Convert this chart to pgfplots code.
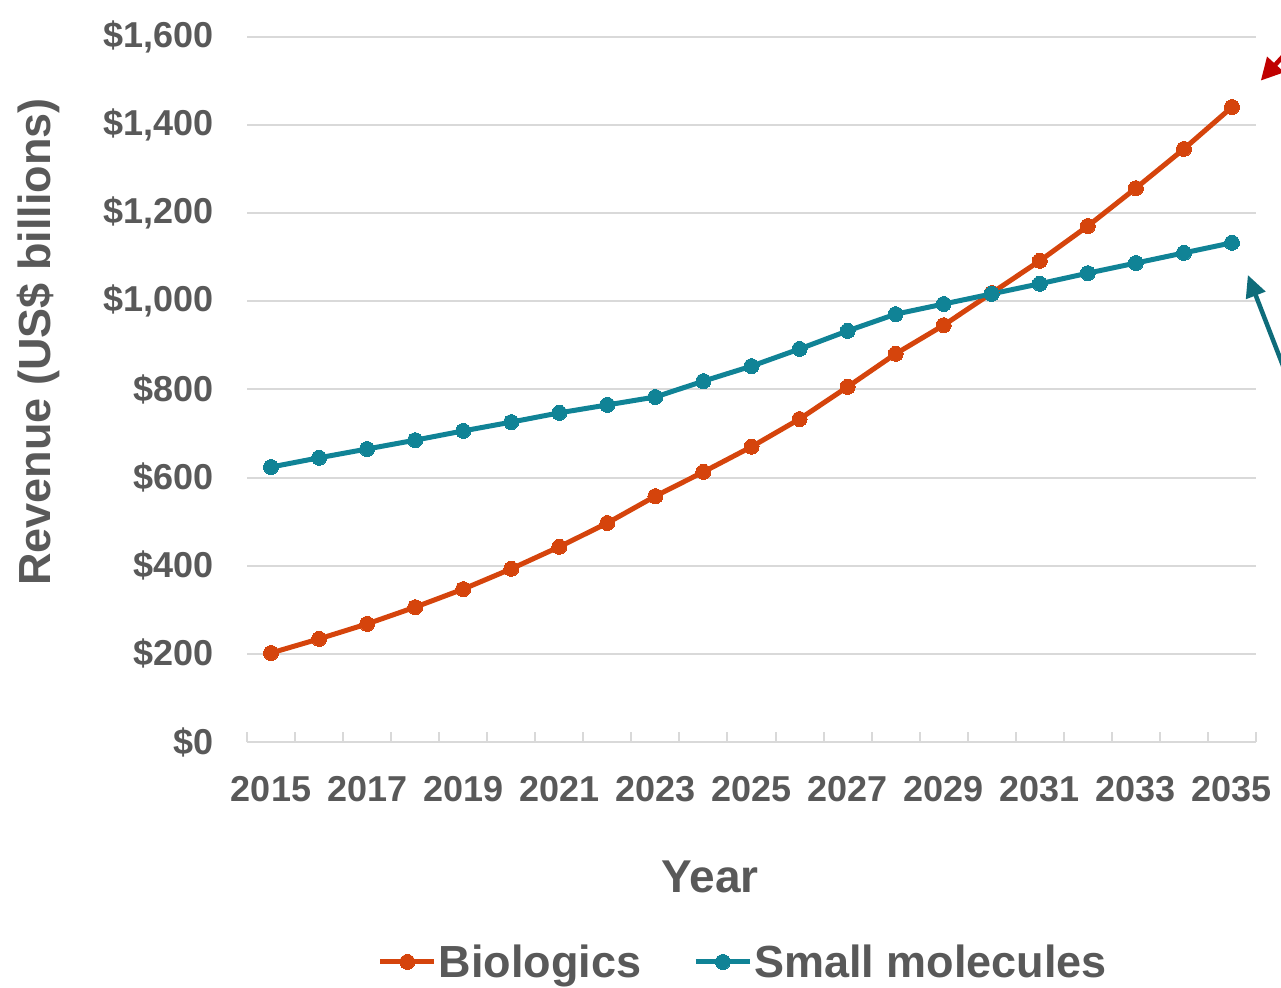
\documentclass[border=0pt]{standalone}
\usepackage{pgfplots}
\pgfplotsset{compat=1.18}
\usepackage{fontspec}
\setmainfont{Liberation Sans}
\usetikzlibrary{arrows.meta}
\definecolor{bio}{RGB}{213,68,12}
\definecolor{small}{RGB}{16,131,150}
\definecolor{redarr}{RGB}{192,0,0}
\definecolor{tealarr}{RGB}{14,108,122}
\definecolor{txt}{RGB}{89,89,89}
\definecolor{grd}{RGB}{217,217,217}
\begin{document}
\begin{tikzpicture}
\useasboundingbox (0,0) rectangle (1281bp,988bp);
\begin{axis}[
  at={(247bp,246bp)}, anchor=south west,
  scale only axis, width=1009bp, height=705bp,
  xmin=2014.5, xmax=2035.5, ymin=0, ymax=1600,
  clip=false,
  axis x line*=bottom, axis y line*=left,
  x axis line style={draw=grd, line width=2bp, -},
  y axis line style={draw=none},
  ytick={0,200,...,1600},
  yticklabels={\$0,\$200,\$400,\$600,\$800,{\$1,000},{\$1,200},{\$1,400},{\$1,600}},
  xtick={2015,2017,2019,2021,2023,2025,2027,2029,2031,2033,2035},
  xticklabels={2015,2017,2019,2021,2023,2025,2027,2029,2031,2033,2035},
  minor xtick={2014.5,2015.5,...,2035.5},
  major tick length=0pt,
  minor tick length=10bp,
  tick align=inside,
  minor x tick style={draw=grd, line width=2bp},
  ymajorgrids,
  major grid style={draw=grd, line width=2bp},
  tick label style={font=\fontsize{36bp}{40bp}\selectfont\bfseries, text=txt},
  yticklabel style={anchor=east, xshift=-30bp},
  xticklabel style={anchor=north, yshift=-31bp},
  legend style={at={(0.492,-0.312)}, anchor=center, draw=none, fill=none,
    legend columns=2, font=\fontsize{45bp}{50bp}\selectfont\bfseries, text=txt,
    nodes={inner sep=2bp},
    /tikz/every even column/.append style={column sep=50bp}},
  legend image code/.code={\draw[mark repeat=2,mark phase=2] plot coordinates {(0bp,0bp)(27bp,0bp)(54bp,0bp)};},
]
\addplot[color=bio, line width=5bp, mark=*, mark size=7.5bp, mark options={solid, fill=bio, draw=bio, line width=0pt}] coordinates {
(2015,202)(2016,234)(2017,268)(2018,306)(2019,347)(2020,393)(2021,443)
(2022,497)(2023,558)(2024,613)(2025,670)(2026,733)(2027,806)(2028,881)
(2029,946)(2030,1019)(2031,1092)(2032,1171)(2033,1257)(2034,1346)(2035,1441)};
\addlegendentry{Biologics}
\addplot[color=small, line width=5bp, mark=*, mark size=7.5bp, mark options={solid, fill=small, draw=small, line width=0pt}] coordinates {
(2015,624)(2016,645)(2017,665)(2018,685)(2019,706)(2020,726)(2021,747)
(2022,765)(2023,783)(2024,819)(2025,853)(2026,892)(2027,933)(2028,971)
(2029,994)(2030,1017)(2031,1040)(2032,1064)(2033,1087)(2034,1110)(2035,1133)};
\addlegendentry{Small molecules}
\draw[redarr, line width=4.5bp, -{Triangle[length=22bp,width=22bp]}] (axis cs:2036.43,1600) -- (axis cs:2035.60,1501);
\draw[tealarr, line width=4.5bp, -{Triangle[length=22bp,width=20bp]}] (axis cs:2036.41,756) -- (axis cs:2035.33,1060);
\end{axis}
\node[rotate=90, text=txt, font=\fontsize{45bp}{50bp}\selectfont\bfseries] at (38bp,646bp) {Revenue (US\$ billions)};
\node[text=txt, font=\fontsize{46bp}{50bp}\selectfont\bfseries] at (710bp,111bp) {Year};
\end{tikzpicture}
\end{document}
